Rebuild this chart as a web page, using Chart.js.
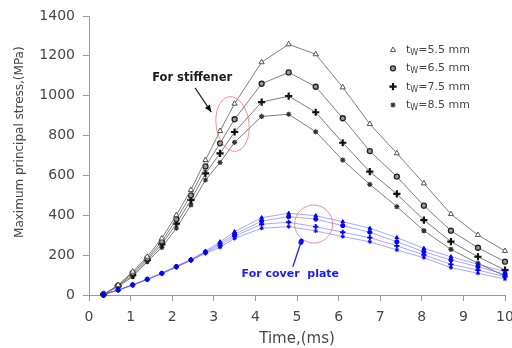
<!DOCTYPE html>
<html><head><meta charset="utf-8">
<script src="https://cdn.jsdelivr.net/npm/chart.js@4.4.0/dist/chart.umd.min.js"></script>
<style>html,body{margin:0;padding:0;background:#fff;}#wrap{width:512px;height:348px;position:relative;}</style>
</head><body><div id="wrap"><canvas id="c" width="512" height="348"></canvas></div>
<script>
// time points (ms)
const times = [0.35,0.7,1.05,1.4,1.75,2.1,2.45,2.8,3.15,3.5,4.15,4.8,5.45,6.1,6.75,7.4,8.05,8.7,9.35,10];
// stiffener stresses (MPa)
const stiff55 = [3,50,117,192,284,401,527,677,823,960,1168,1258,1208,1042,858,711,560,406,301,221];
const stiff65 = [3,47,110,183,268,380,500,645,761,882,1060,1117,1045,887,722,594,448,323,237,167];
const stiff75 = [3,45,100,175,254,358,477,610,711,818,968,998,917,764,619,507,376,268,192,125];
const stiff85 = [3,42,92,167,239,335,452,577,665,766,896,907,819,677,555,443,323,229,159,95];
// cover plate stresses (MPa)
const cover55 = [3,25,52,80,110,145,178,220,267,318,388,410,398,368,335,288,234,192,154,117];
const cover65 = [3,25,51,79,109,143,176,216,258,305,371,393,381,348,315,267,217,176,142,104];
const cover75 = [3,25,50,78,108,141,175,213,248,295,355,365,343,315,288,247,201,154,125,92];
const cover85 = [3,24,49,77,107,139,174,209,239,284,335,343,321,293,267,226,187,137,109,80];
const seriesLabels = ['5.5','6.5','7.5','8.5'];
const xTickValues = [0,1,2,3,4,5,6,7,8,9,10];
const yTickValues = [0,200,400,600,800,1000,1200,1400];

const toXY = arr => arr.map((v,i)=>({x:times[i], y:v}));
const GRAY_LINE = '#7d7d7d';
const BLUE_LINE = 'rgba(80,80,255,0.5)';
const BLUE_PT = '#0000f0';

const blackStyles = [
  {pointStyle:'triangle', pointRadius:3, pointBackgroundColor:'#ffffff', pointBorderColor:'#555', pointBorderWidth:1},
  {pointStyle:'circle', pointRadius:2.5, pointBackgroundColor:'#9a9a9a', pointBorderColor:'#222', pointBorderWidth:1.3},
  {pointStyle:'cross', pointRadius:3.6, pointBackgroundColor:'#111', pointBorderColor:'#111', pointBorderWidth:2.2},
  {pointStyle:'star', pointRadius:2.6, pointBackgroundColor:'#444', pointBorderColor:'#333', pointBorderWidth:1.2}
];
const blackData = [stiff55, stiff65, stiff75, stiff85];
const blueData = [cover55, cover65, cover75, cover85];

const datasets = [];
blueData.forEach((d,i)=>{
  datasets.push(Object.assign({
    label:'cover tW=' + seriesLabels[i] + ' mm', data:toXY(d), borderColor:BLUE_LINE, borderWidth:1,
    tension:0, clip:false, fill:false
  }, {pointStyle:blackStyles[i].pointStyle, pointRadius: i===2?2.6:2.1, pointBackgroundColor:BLUE_PT, pointBorderColor:BLUE_PT, pointBorderWidth: i===2?1.8:1}));
});
blackData.forEach((d,i)=>{
  datasets.push(Object.assign({
    label:'tW=' + seriesLabels[i] + ' mm', data:toXY(d), borderColor:GRAY_LINE, borderWidth:1,
    tension:0, clip:false, fill:false
  }, blackStyles[i]));
});

const TEXT = '#474747';
const AX = '#9a9a9a';

const annot = {
  id:'annot',
  afterDraw(chart){
    const {ctx, scales:{x,y}} = chart;
    ctx.save();
    // legend
    const lx = 393, rows = [50, 68.3, 86.7, 105];
    rows.forEach((ry,i)=>{
      const s = blackStyles[i];
      ctx.fillStyle = s.pointBackgroundColor; ctx.strokeStyle = s.pointBorderColor; ctx.lineWidth = s.pointBorderWidth;
      if (Chart.helpers && Chart.helpers.drawPoint) {
        Chart.helpers.drawPoint(ctx, {pointStyle:s.pointStyle, radius:s.pointRadius, rotation:0, borderWidth:s.pointBorderWidth}, lx, ry);
      }
      ctx.fillStyle = TEXT; ctx.textBaseline = 'middle'; ctx.textAlign = 'left';
      let tx = 406;
      ctx.font = '11px "DejaVu Sans"'; ctx.fillText('t', tx, ry); tx += ctx.measureText('t').width;
      ctx.font = '8px "DejaVu Sans"'; ctx.fillText('W', tx, ry+3); tx += ctx.measureText('W').width;
      ctx.font = '11px "DejaVu Sans"'; ctx.fillText('=' + seriesLabels[i] + ' mm', tx, ry);
    });
    // stiffener annotation
    ctx.font = 'bold 11.5px "DejaVu Sans"'; ctx.fillStyle = '#1a1a1a'; ctx.textAlign = 'center'; ctx.textBaseline='middle';
    ctx.fillText('For stiffener', x.getPixelForValue(2.48), y.getPixelForValue(1091));
    const ax0 = x.getPixelForValue(2.55), ay0 = y.getPixelForValue(1039);
    const ax1 = x.getPixelForValue(2.94), ay1 = y.getPixelForValue(918);
    ctx.strokeStyle = '#222'; ctx.lineWidth = 1.2;
    ctx.beginPath(); ctx.moveTo(ax0, ay0); ctx.lineTo(ax1, ay1); ctx.stroke();
    const ang = Math.atan2(ay1-ay0, ax1-ax0);
    ctx.fillStyle = '#111'; ctx.beginPath();
    ctx.moveTo(ax1, ay1);
    ctx.lineTo(ax1 - 7*Math.cos(ang) + 3*Math.sin(ang), ay1 - 7*Math.sin(ang) - 3*Math.cos(ang));
    ctx.lineTo(ax1 - 7*Math.cos(ang) - 3*Math.sin(ang), ay1 - 7*Math.sin(ang) + 3*Math.cos(ang));
    ctx.closePath(); ctx.fill();
    ctx.strokeStyle = 'rgba(235,110,110,0.75)'; ctx.lineWidth = 1;
    ctx.beginPath(); ctx.ellipse(x.getPixelForValue(3.45), y.getPixelForValue(858), 16.5, 27.5, -0.12, 0, Math.PI*2); ctx.stroke();
    // cover plate annotation
    ctx.beginPath(); ctx.ellipse(x.getPixelForValue(5.4), y.getPixelForValue(356), 19, 19, 0, 0, Math.PI*2); ctx.stroke();
    const bx0 = x.getPixelForValue(4.9), by0 = y.getPixelForValue(142);
    const bx1 = x.getPixelForValue(5.1), by1 = y.getPixelForValue(267);
    ctx.strokeStyle = '#2020ff'; ctx.lineWidth = 1.3;
    ctx.beginPath(); ctx.moveTo(bx0, by0); ctx.lineTo(bx1, by1); ctx.stroke();
    ctx.fillStyle = '#1010ff'; ctx.beginPath(); ctx.ellipse(bx1, by1, 2.6, 3.2, 0.3, 0, Math.PI*2); ctx.fill();
    ctx.font = 'bold 11px "DejaVu Sans"'; ctx.fillStyle = '#1a1aff'; ctx.textAlign='center';
    ctx.fillText('For cover  plate', x.getPixelForValue(4.84), y.getPixelForValue(105));
    ctx.restore();
  }
};

new Chart(document.getElementById('c'), {
  type:'line',
  data:{datasets},
  options:{
    responsive:false, animation:false, devicePixelRatio:1,
    layout:{padding:{top:16,right:7,left:0,bottom:0}},
    plugins:{legend:{display:false}, tooltip:{enabled:false}},
    scales:{
      x:{type:'linear', min:0, max:10,
        afterBuildTicks(s){ s.ticks = xTickValues.map(v=>({value:v})); },
        ticks:{color:TEXT, font:{family:'DejaVu Sans', size:14}, padding:8, maxRotation:0, autoSkip:false, callback:v=>String(v)},
        grid:{display:true, drawOnChartArea:false, drawTicks:true, tickLength:6, color:AX},
        border:{color:AX, width:1},
        title:{display:true, text:'Time,(ms)', color:TEXT, font:{family:'DejaVu Sans', size:15}, padding:{top:0,bottom:0}},
        afterFit(s){ s.height = 53; s.paddingLeft = 0; s.paddingRight = 0; }
      },
      y:{type:'linear', min:0, max:1400,
        afterBuildTicks(s){ s.ticks = yTickValues.map(v=>({value:v})); },
        ticks:{color:TEXT, font:{family:'DejaVu Sans', size:14}, padding:8, callback:v=>String(v)},
        grid:{display:true, drawOnChartArea:false, drawTicks:true, tickLength:6, color:AX},
        border:{color:AX, width:1},
        title:{display:true, text:'       Maximum principal stress,(MPa)', color:TEXT, font:{family:'DejaVu Sans', size:12}, padding:{top:13,bottom:0}},
        afterFit(s){ s.width = 89; s.paddingTop = 0; s.paddingBottom = 0; }
      }
    }
  },
  plugins:[annot]
});
</script></body></html>
